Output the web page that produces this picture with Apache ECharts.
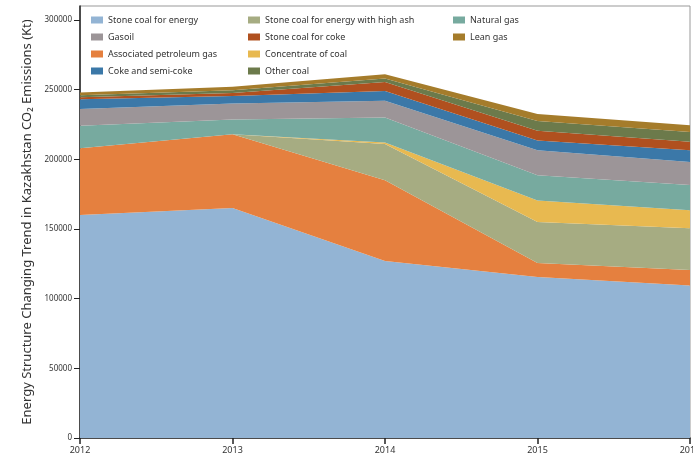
<!DOCTYPE html>
<html><head><meta charset="utf-8">
<script src="https://cdn.jsdelivr.net/npm/echarts@6/dist/echarts.min.js"></script>
<style>html,body{margin:0;padding:0;background:#fff}#c{width:693px;height:462px}</style>
</head><body><div id="c"></div>
<script>
const years = ['2012','2013','2014','2015','2016'];
const yTicks = [0, 50000, 100000, 150000, 200000, 250000, 300000];
const stoneCoalEnergy   = [160000, 165000, 127000, 115500, 109500];
const assocPetroleumGas = [48000, 53000, 58000, 10000, 11000];
const stoneCoalHighAsh  = [0, 0, 26000, 29500, 30000];
const concentrateCoal   = [0, 0, 1000, 15500, 13000];
const naturalGas        = [16000, 10500, 18000, 18000, 18000];
const gasoil            = [12000, 11500, 12000, 18000, 16500];
const cokeSemiCoke      = [7000, 5500, 7000, 7000, 8500];
const stoneCoalCoke     = [1500, 2000, 6500, 7000, 6000];
const otherCoal         = [1500, 2000, 2500, 7000, 7000];
const leanGas           = [2000, 2500, 3000, 5000, 5000];

const seriesDefs = [
  ['Stone coal for energy', stoneCoalEnergy, '#93b4d4'],
  ['Associated petroleum gas', assocPetroleumGas, '#e5803f'],
  ['Stone coal for energy with high ash', stoneCoalHighAsh, '#a6ac82'],
  ['Concentrate of coal', concentrateCoal, '#e8b950'],
  ['Natural gas', naturalGas, '#77aa9f'],
  ['Gasoil', gasoil, '#9c9598'],
  ['Coke and semi-coke', cokeSemiCoke, '#3b78a8'],
  ['Stone coal for coke', stoneCoalCoke, '#b0501f'],
  ['Other coal', otherCoal, '#6c7a4b'],
  ['Lean gas', leanGas, '#a57c2b']
];
const legendCols = [
  ['Stone coal for energy','Gasoil','Associated petroleum gas','Coke and semi-coke'],
  ['Stone coal for energy with high ash','Stone coal for coke','Concentrate of coal','Other coal'],
  ['Natural gas','Lean gas']
];
const legendLeft = [86, 243, 448];
const font = 'Noto Sans';
const chart = echarts.init(document.getElementById('c'));
chart.setOption({
  animation: false,
  textStyle: {fontFamily: font},
  grid: {left: 80, right: 3, top: 6, bottom: 24, show: true, borderColor: '#999', borderWidth: 1,
         containLabel: false, outerBoundsMode: 'none'},
  legend: legendCols.map((d, i) => ({
    data: d, orient: 'vertical', left: legendLeft[i], top: 10,
    itemWidth: 12, itemHeight: 7, itemGap: 7, icon: 'rect',
    textStyle: {fontSize: 9, color: '#333', fontFamily: font, lineHeight: 10}, selectedMode: false
  })),
  xAxis: {
    type: 'category', data: years, boundaryGap: false,
    axisLine: {lineStyle: {color: '#222', width: 1.5}},
    axisTick: {show: true, length: 6, lineStyle: {color: '#222', width: 1.5}},
    axisLabel: {fontSize: 9, color: '#333', margin: 8, hideOverlap: false},
    splitLine: {show: false}
  },
  yAxis: {
    type: 'value', min: 0, max: 310000,
    name: 'Energy Structure Changing Trend in Kazakhstan CO\u2082 Emissions (Kt)',
    nameLocation: 'middle', nameGap: 44,
    nameTextStyle: {fontSize: 13, color: '#333', fontFamily: font},
    axisLine: {show: true, lineStyle: {color: '#222', width: 1.5}},
    axisTick: {show: true, length: 6, customValues: yTicks, lineStyle: {color: '#222'}},
    axisLabel: {fontSize: 8, color: '#333', margin: 8, customValues: yTicks,
                formatter: v => String(v)},
    splitLine: {show: false}
  },
  series: seriesDefs.map(([name, data, color]) => ({
    name, type: 'line', stack: 'total', data, symbol: 'none', showSymbol: false,
    lineStyle: {width: 0}, areaStyle: {color, opacity: 1}, itemStyle: {color},
    emphasis: {disabled: true}
  }))
});
</script></body></html>
